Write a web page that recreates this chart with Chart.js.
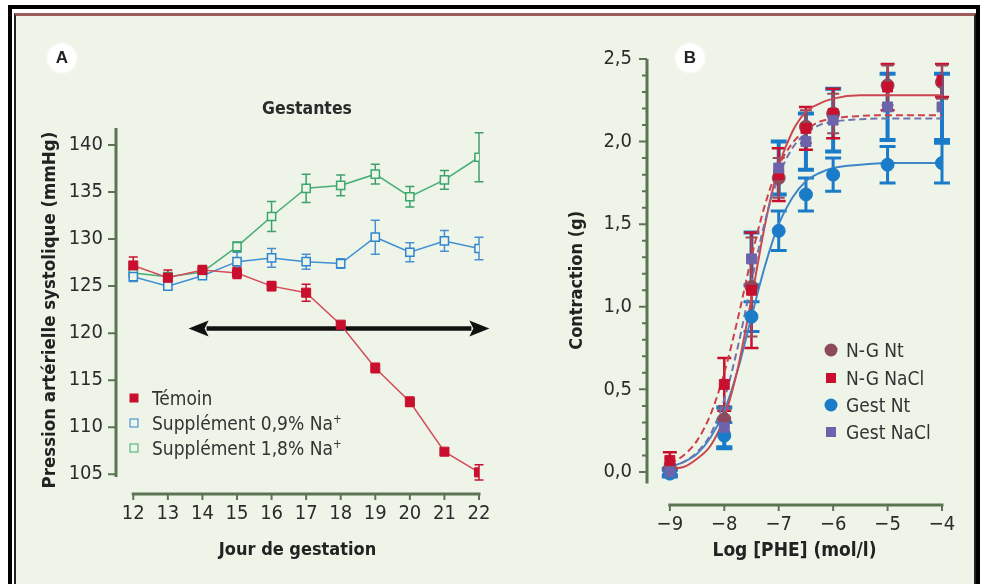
<!DOCTYPE html>
<html>
<head>
<meta charset="utf-8">
<script src="https://cdn.jsdelivr.net/npm/chart.js@4.4.1/dist/chart.umd.min.js"></script>
<style>
  html, body { margin: 0; padding: 0; background: #fff; }
  body { width: 984px; height: 584px; position: relative; overflow: hidden;
    font-family: 'Liberation Sans Narrow', 'DejaVu Sans Condensed', 'Liberation Sans', sans-serif; color: #2b2b2b; }
  .outer { position: absolute; left: 8px; top: 5px; width: 964px; height: 590px; border: 4px solid #000; }
  .panel { position: absolute; left: 14px; top: 13px; width: 958px; height: 580px; background: #eef5e8;
    border-top: 3px solid #9c5c5c; border-left: 2px solid #222; border-right: 2px solid #222; }
  canvas { position: absolute; top: 0; }
  #chartA { left: 0; }
  #chartB { left: 540px; }
  .badge { position: absolute; width: 32px; height: 32px; border-radius: 50%;
    background: radial-gradient(circle, #fff 60%, rgba(255,255,255,0) 72%);
    font: bold 17px 'Liberation Sans', sans-serif; color: #222; text-align: center; line-height: 32px; }
  .title { position: absolute; font-weight: bold; font-size: 17.5px; color: #2a2a2a; transform: translate(-50%, -50%); white-space: nowrap; }
  .leg { position: absolute; font-size: 19px; color: #333; white-space: nowrap; transform: translateY(-50%); line-height: 22px; }
  .leg i { position: absolute; top: 50%; transform: translate(-50%, -50%); box-sizing: border-box; }
  sup { font-size: 60%; vertical-align: 0.6em; line-height: 0; }
</style>
</head>
<body>
<div class="outer"></div>
<div class="panel"></div>
<canvas id="chartA" width="540" height="584"></canvas>
<canvas id="chartB" width="444" height="584"></canvas>

<div class="badge" style="left:46px; top:42px;">A</div>
<div class="badge" style="left:674px; top:42px;">B</div>
<div class="title" style="left:307px; top:108px;">Gestantes</div>

<div class="leg" style="left:152px; top:398px;"><i style="left:-18px; width:9px; height:9px; background:#c8102e;"></i>Témoin</div>
<div class="leg" style="left:152px; top:423px;"><i style="left:-18px; width:9px; height:9px; border:1.5px solid #2f86d0;"></i>Supplément 0,9% Na<sup>+</sup></div>
<div class="leg" style="left:152px; top:448px;"><i style="left:-18px; width:9px; height:9px; border:1.5px solid #3aa86c;"></i>Supplément 1,8% Na<sup>+</sup></div>

<div class="leg" style="left:846px; top:350px;"><i style="left:-15px; width:13px; height:13px; border-radius:50%; background:#8c4a5c;"></i>N-G Nt</div>
<div class="leg" style="left:846px; top:378px;"><i style="left:-15px; width:10px; height:10px; background:#c8102e;"></i>N-G NaCl</div>
<div class="leg" style="left:846px; top:405px;"><i style="left:-15px; width:13px; height:13px; border-radius:50%; background:#1a7cc8;"></i>Gest Nt</div>
<div class="leg" style="left:846px; top:432px;"><i style="left:-15px; width:10px; height:10px; background:#6c64aa;"></i>Gest NaCl</div>

<script>
'use strict';

// ---- Panel A : pression artérielle, jours 12 à 22 ----
const daysA = [12, 13, 14, 15, 16, 17, 18, 19, 20, 21, 22];
const temoin = [127.2, 125.9, 126.7, 126.4, 125.0, 124.3, 120.9, 116.3, 112.7, 107.4, 105.2];
const temoinErr = [0.9, 0.8, 0.5, 0.6, 0.5, 0.9, 0.3, 0.5, 0.5, 0.3, 0.8];
const supp09 = [126.0, 125.0, 126.1, 127.6, 128.0, 127.6, 127.4, 130.2, 128.6, 129.8, 129.0];
const supp09Err = [0.5, 0.3, 0.3, 1.0, 1.0, 0.8, 0.5, 1.8, 1.0, 1.1, 1.2];
const supp18 = [126.4, 126.0, 126.5, 129.2, 132.4, 135.4, 135.7, 136.9, 134.5, 136.3, 138.7];
const supp18Err = [0.4, 0.4, 0.4, 0.5, 1.6, 1.5, 1.1, 1.05, 1.1, 1.0, 2.6];
const yTicksA = [105, 110, 115, 120, 125, 130, 135, 140];
const arrowA = { from: 13.6, to: 22.3, y: 120.5 };

// ---- Panel B : contraction vs log [PHE] ----
const logPhe = [-9, -8, -7.5, -7, -6.5, -6, -5, -4];
const ngNt = [0.02, 0.32, 1.12, 1.78, 2.09, 2.17, 2.34, 2.36];
const ngNtErr = [0.03, 0.08, 0.3, 0.12, 0.1, 0.12, 0.12, 0.1];
const ngNacl = [0.07, 0.53, 1.10, 1.80, 2.08, 2.17, 2.33, 2.37];
const ngNaclErr = [0.05, 0.16, 0.35, 0.16, 0.13, 0.15, 0.14, 0.1];
const gestNt = [-0.01, 0.22, 0.94, 1.46, 1.68, 1.80, 1.86, 1.87];
const gestNtErr = [0.02, 0.08, 0.09, 0.12, 0.1, 0.1, 0.11, 0.12];
const gestNacl = [0.0, 0.27, 1.29, 1.84, 2.0, 2.13, 2.21, 2.21];
const gestNaclErr = [0.02, 0.12, 0.16, 0.16, 0.17, 0.19, 0.2, 0.2];

// fitted curves
const fitX = [-9, -8.75, -8.5, -8.25, -8, -7.75, -7.5, -7.25, -7, -6.75, -6.5, -6.25, -6, -5.5, -5, -4.5, -4];
const ngNtFit = [0.02, 0.03, 0.08, 0.16, 0.33, 0.63, 1.05, 1.50, 1.85, 2.06, 2.18, 2.23, 2.26, 2.28, 2.28, 2.28, 2.28];
const ngNaclFit = [0.05, 0.10, 0.19, 0.35, 0.60, 0.93, 1.30, 1.62, 1.85, 1.99, 2.07, 2.12, 2.14, 2.155, 2.16, 2.16, 2.16];
const gestNtFit = [0.03, 0.06, 0.11, 0.21, 0.37, 0.62, 0.94, 1.25, 1.50, 1.66, 1.76, 1.81, 1.84, 1.86, 1.87, 1.87, 1.87];
const gestNaclFit = [0.03, 0.06, 0.12, 0.23, 0.44, 0.76, 1.15, 1.52, 1.79, 1.96, 2.05, 2.10, 2.12, 2.135, 2.14, 2.14, 2.14];
const xTicksB = [-9, -8, -7, -6, -5, -4];
const yTicksB = [0, 0.5, 1.0, 1.5, 2.0, 2.5];

const FONT = "'Liberation Sans Narrow', 'DejaVu Sans Condensed', 'Liberation Sans', sans-serif";
const AXIS = '#5b7553';
const BG = '#eef5e8';
Chart.defaults.font.family = FONT;
Chart.defaults.color = '#2b2b2b';
Chart.defaults.animation = false;

function pts(xs, ys) {
  return xs.map((x, i) => ({ x: x, y: ys[i] }));
}

/**
 * Axis lines and tick marks, detached like in the original figure.
 */
const axisDeco = {
  id: 'axisDeco',
  beforeDatasetsDraw(chart, args, o) {
    const { ctx, chartArea } = chart;
    const xs = chart.scales.x, ys = chart.scales.y;
    const left = chartArea.left, bottom = chartArea.bottom;
    ctx.save();
    ctx.strokeStyle = AXIS;
    ctx.lineWidth = 3;
    ctx.beginPath();
    ctx.moveTo(left, ys.getPixelForValue(o.ySpan[1]));
    ctx.lineTo(left, ys.getPixelForValue(o.ySpan[0]));
    ctx.moveTo(xs.getPixelForValue(o.xSpan[0]) - 1.5, bottom);
    ctx.lineTo(xs.getPixelForValue(o.xSpan[1]) + 1.5, bottom);
    ctx.stroke();
    ctx.lineWidth = 2;
    ctx.beginPath();
    o.yTicks.forEach(v => {
      const y = ys.getPixelForValue(v);
      ctx.moveTo(left, y); ctx.lineTo(left - 8, y);
    });
    if (o.yMinor) {
      for (let v = o.ySpan[0] < 0 ? 0 : o.ySpan[0]; v < o.ySpan[1]; v += o.yMinor) {
        const y = ys.getPixelForValue(v);
        ctx.moveTo(left, y); ctx.lineTo(left - 5, y);
      }
    }
    o.xTicks.forEach(v => {
      const x = xs.getPixelForValue(v);
      ctx.moveTo(x, bottom); ctx.lineTo(x, bottom + 6);
    });
    ctx.stroke();
    ctx.restore();
  }
};

const errorBars = {
  id: 'errorBars',
  beforeDatasetsDraw(chart) {
    const { ctx } = chart;
    const xs = chart.scales.x, ys = chart.scales.y;
    chart.data.datasets.forEach(ds => {
      if (!ds.errors) return;
      ctx.save();
      ctx.strokeStyle = ds.errColor;
      ctx.lineWidth = ds.errWidth;
      ds.data.forEach((p, i) => {
        const e = ds.errors[i];
        if (!e) return;
        const x = xs.getPixelForValue(p.x);
        const y1 = ys.getPixelForValue(p.y + e), y2 = ys.getPixelForValue(p.y - e);
        const c = ds.errCap / 2;
        ctx.beginPath();
        ctx.moveTo(x, y1); ctx.lineTo(x, y2);
        ctx.moveTo(x - c, y1); ctx.lineTo(x + c, y1);
        ctx.moveTo(x - c, y2); ctx.lineTo(x + c, y2);
        ctx.stroke();
      });
      ctx.restore();
    });
  }
};

const arrow = {
  id: 'arrow',
  beforeDatasetsDraw(chart, args, o) {
    if (!o.from) return;
    const { ctx } = chart;
    const x1 = chart.scales.x.getPixelForValue(o.from);
    const x2 = chart.scales.x.getPixelForValue(o.to);
    const y = chart.scales.y.getPixelForValue(o.y);
    const hl = 20, hw = 8;
    ctx.save();
    ctx.strokeStyle = '#111';
    ctx.fillStyle = '#111';
    ctx.lineWidth = 4.5;
    ctx.beginPath();
    ctx.moveTo(x1 + hl - 2, y); ctx.lineTo(x2 - hl + 2, y);
    ctx.stroke();
    ctx.beginPath();
    ctx.moveTo(x1, y); ctx.lineTo(x1 + hl, y - hw); ctx.lineTo(x1 + hl - 4, y); ctx.lineTo(x1 + hl, y + hw); ctx.closePath();
    ctx.moveTo(x2, y); ctx.lineTo(x2 - hl, y - hw); ctx.lineTo(x2 - hl + 4, y); ctx.lineTo(x2 - hl, y + hw); ctx.closePath();
    ctx.fill();
    ctx.restore();
  }
};

function axisOpts(extra) {
  return Object.assign({
    type: 'linear',
    grid: { display: false, drawTicks: false },
    border: { display: false },
    ticks: { autoSkip: false, maxRotation: 0, font: { size: 20 }, color: '#2b2b2b' }
  }, extra);
}

// ---------- Chart A ----------
new Chart(document.getElementById('chartA').getContext('2d'), {
  type: 'line',
  data: {
    datasets: [
      { label: 'Témoin', data: pts(daysA, temoin), errors: temoinErr,
        borderColor: '#d34d5a', borderWidth: 1.5, pointStyle: 'rect', pointRadius: 6.4,
        pointBackgroundColor: '#c8102e', pointBorderColor: '#c8102e', pointBorderWidth: 1,
        errColor: '#c8102e', errWidth: 1.5, errCap: 9 },
      { label: 'Supplément 0,9% Na+', data: pts(daysA, supp09), errors: supp09Err,
        borderColor: '#3f8fd2', borderWidth: 1.5, pointStyle: 'rect', pointRadius: 5.8,
        pointBackgroundColor: BG, pointBorderColor: '#2f86d0', pointBorderWidth: 1.5,
        errColor: '#4a8fd0', errWidth: 1.5, errCap: 9 },
      { label: 'Supplément 1,8% Na+', data: pts(daysA, supp18), errors: supp18Err,
        borderColor: '#45ad75', borderWidth: 1.5, pointStyle: 'rect', pointRadius: 5.8,
        pointBackgroundColor: BG, pointBorderColor: '#3aa86c', pointBorderWidth: 1.5,
        errColor: '#3f9f6a', errWidth: 1.5, errCap: 9 }
    ]
  },
  options: {
    responsive: false,
    layout: { padding: { left: 10, right: 61, top: 126.2, bottom: 20 } },
    plugins: {
      legend: { display: false },
      tooltip: { enabled: false },
      axisDeco: { ySpan: [104.7, 141.8], xSpan: [12, 22], yTicks: yTicksA, xTicks: daysA },
      arrow: arrowA
    },
    scales: {
      x: axisOpts({
        min: 11.5, max: 22,
        afterBuildTicks: s => { s.ticks = daysA.map(v => ({ value: v })); },
        afterFit: s => { s.height = 70; },
        ticks: { autoSkip: false, maxRotation: 0, font: { size: 20 }, color: '#2b2b2b', padding: 8 },
        title: { display: true, text: 'Jour de gestation', font: { size: 18, weight: 'bold' }, color: '#222', padding: { top: 0, bottom: 3 } }
      }),
      y: axisOpts({
        min: 102.9, max: 142,
        afterBuildTicks: s => { s.ticks = yTicksA.map(v => ({ value: v })); },
        afterFit: s => { s.width = 106; },
        ticks: { autoSkip: false, font: { size: 20 }, color: '#2b2b2b', padding: 13 },
        title: { display: true, text: 'Pression artérielle systolique (mmHg)', font: { size: 18.5, weight: 'bold' }, color: '#222', padding: { top: 29, bottom: 0 } }
      })
    }
  },
  plugins: [axisDeco, errorBars, arrow]
});

// ---------- Chart B ----------
function fitLine(label, ys, color, dash) {
  return { label: label, data: pts(fitX, ys), borderColor: color, borderWidth: 2, borderDash: dash,
    pointRadius: 0, cubicInterpolationMode: 'monotone', showLine: true };
}

new Chart(document.getElementById('chartB').getContext('2d'), {
  type: 'line',
  data: {
    datasets: [
      { label: 'Gest NaCl', data: pts(logPhe, gestNacl), errors: gestNaclErr, showLine: false,
        pointStyle: 'rect', pointRadius: 7, pointBackgroundColor: '#6c64aa', pointBorderColor: '#6c64aa',
        errColor: '#1a7cc8', errWidth: 4, errCap: 16 },
      { label: 'Gest Nt', data: pts(logPhe, gestNt), errors: gestNtErr, showLine: false,
        pointStyle: 'circle', pointRadius: 6.5, pointBackgroundColor: '#1a7cc8', pointBorderColor: '#1a7cc8',
        errColor: '#1a7cc8', errWidth: 3, errCap: 16 },
      { label: 'N-G NaCl', data: pts(logPhe, ngNacl), errors: ngNaclErr, showLine: false,
        pointStyle: 'rect', pointRadius: 7, pointBackgroundColor: '#c8102e', pointBorderColor: '#c8102e',
        errColor: '#c8102e', errWidth: 2.5, errCap: 14 },
      { label: 'N-G Nt', data: pts(logPhe, ngNt), errors: ngNtErr, showLine: false,
        pointStyle: 'circle', pointRadius: 6.5, pointBackgroundColor: '#8c4a5c', pointBorderColor: '#8c4a5c',
        errColor: '#9a4a5a', errWidth: 2, errCap: 12 },
      fitLine('Gest NaCl fit', gestNaclFit, '#6f74ad', [7, 4]),
      fitLine('N-G NaCl fit', ngNaclFit, '#d0404c', [7, 4]),
      fitLine('N-G Nt fit', ngNtFit, '#cc4650', []),
      fitLine('Gest Nt fit', gestNtFit, '#3f86c8', [])
    ]
  },
  options: {
    responsive: false,
    layout: { padding: { left: 10, right: 42, top: 55.7, bottom: 9 } },
    plugins: {
      legend: { display: false },
      tooltip: { enabled: false },
      axisDeco: { ySpan: [-0.07, 2.5], xSpan: [-9, -4], yTicks: yTicksB, yMinor: 0.1, xTicks: xTicksB },
      arrow: {}
    },
    scales: {
      x: axisOpts({
        min: -9.42, max: -4,
        afterBuildTicks: s => { s.ticks = xTicksB.map(v => ({ value: v })); },
        afterFit: s => { s.height = 70; },
        ticks: { autoSkip: false, maxRotation: 0, font: { size: 20 }, color: '#2b2b2b', padding: 8,
          callback: v => '\u2212' + Math.abs(v) },
        title: { display: true, text: 'Log [PHE] (mol/l)', font: { size: 19, weight: 'bold' }, color: '#222', padding: { top: 0, bottom: 13 } }
      }),
      y: axisOpts({
        min: -0.2, max: 2.52,
        afterBuildTicks: s => { s.ticks = yTicksB.map(v => ({ value: v })); },
        afterFit: s => { s.width = 97; },
        ticks: { autoSkip: false, font: { size: 20 }, color: '#2b2b2b', padding: 15,
          callback: v => v.toFixed(1).replace('.', ',') },
        title: { display: true, text: 'Contraction (g)', font: { size: 18, weight: 'bold' }, color: '#222', padding: { top: 17, bottom: 0 } }
      })
    }
  },
  plugins: [axisDeco, errorBars, arrow]
});
</script>
</body>
</html>
